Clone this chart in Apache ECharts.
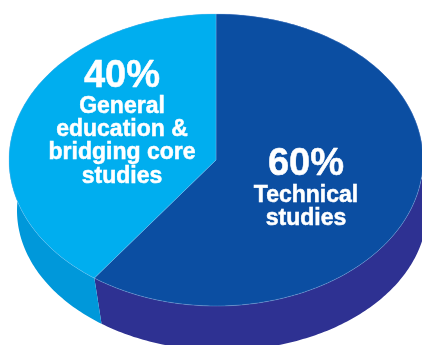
<!DOCTYPE html>
<html>
<head>
<meta charset="utf-8">
<style>html,body{margin:0;padding:0;background:#fff}#c{width:422px;height:345px}</style>
<script src="https://cdn.jsdelivr.net/npm/echarts@6/dist/echarts.min.js"></script>
</head>
<body>
<div id="c"></div>
<script>
// Programme make-up, clockwise from twelve o'clock
const categories = ['Technical studies', 'General education & bridging core studies'];
const shares = [60, 40];
const percentLabels = ['60%', '40%'];
const descriptionLines = [['Technical', 'studies'], ['General', 'education &', 'bridging core', 'studies']];

const topColors = ['#0B4EA2', '#00AEEF'];
const wallColors = ['#2E3192', '#0098DA'];

// Ellipses of the upper face and of the lower rim of the disc
const topFace = { cx: 216, cy: 160, rx: 207, ry: 146 };
const lowerRim = { cx: 222, cy: 210.5, rx: 205, ry: 140 };
const labelAnchors = [
  { x: 306, bigY: 184, firstY: 207, step: 23 },
  { x: 122, bigY: 96, firstY: 118, step: 23.3 }
];

const total = shares.reduce((a, b) => a + b, 0);

function sliceRange(index) {
  let before = 0;
  for (let i = 0; i < index; i++) before += shares[i];
  return [before / total * Math.PI * 2, (before + shares[index]) / total * Math.PI * 2];
}
function rimPoint(e, a) {
  return [e.cx + e.rx * Math.sin(a), e.cy - e.ry * Math.cos(a)];
}
function arc(e, from, to) {
  const n = Math.max(8, Math.round(Math.abs(to - from) * 60));
  const pts = [];
  for (let i = 0; i <= n; i++) pts.push(rimPoint(e, from + (to - from) * i / n));
  return pts;
}
function renderWall(params, api) {
  const [a, b] = sliceRange(params.dataIndex);
  return {
    type: 'polygon',
    shape: { points: arc(topFace, a, b).concat(arc(lowerRim, b, a)) },
    style: { fill: wallColors[params.dataIndex], stroke: null }
  };
}
function whiteText(text, x, y, size) {
  return {
    type: 'text',
    z2: 5,
    style: {
      text, x, y,
      fill: '#fff', stroke: '#fff', lineWidth: 0.5,
      fontFamily: 'Liberation Sans', fontWeight: 'bold', fontSize: size,
      textAlign: 'center', textVerticalAlign: 'bottom', lineHeight: size
    }
  };
}
function renderFace(params, api) {
  const i = params.dataIndex;
  const [a, b] = sliceRange(i);
  const anchor = labelAnchors[i];
  const children = [{
    type: 'polygon',
    z2: 1,
    shape: { points: [[topFace.cx, topFace.cy]].concat(arc(topFace, a, b)) },
    style: { fill: topColors[i], stroke: 'rgba(140,195,240,0.55)', lineWidth: 0.6 }
  }, whiteText(percentLabels[i], anchor.x, anchor.bigY, 38)];
  descriptionLines[i].forEach((line, k) => {
    children.push(whiteText(line, anchor.x, anchor.firstY + k * anchor.step, 23));
  });
  return { type: 'group', children };
}

const seriesData = categories.map((name, i) => ({ name, value: [shares[i]] }));
const chart = echarts.init(document.getElementById('c'), null, { renderer: 'canvas' });
chart.setOption({
  animation: false,
  backgroundColor: '#fff',
  tooltip: { show: false },
  series: [
    { type: 'custom', coordinateSystem: 'none', renderItem: renderWall, data: seriesData, z: 1, silent: true },
    { type: 'custom', coordinateSystem: 'none', renderItem: renderFace, data: seriesData, z: 2, silent: true }
  ]
});
</script>
</body>
</html>
